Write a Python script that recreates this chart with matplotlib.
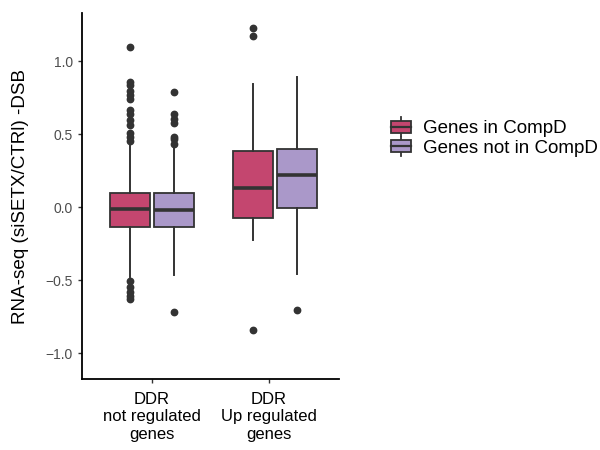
import matplotlib
matplotlib.use("Agg")
import matplotlib.pyplot as plt
from matplotlib.legend_handler import HandlerBase
from matplotlib.patches import Rectangle
from matplotlib.lines import Line2D

plt.rcParams['font.family'] = ['Liberation Sans', 'DejaVu Sans']

categories = ["DDR\nnot regulated\ngenes", "DDR\nUp regulated\ngenes"]
series = ["Genes in CompD", "Genes not in CompD"]
colors = ["#C4466F", "#AA98C9"]

# stats per series per category: whislo, q1, med, q3, whishi
in_compd_stats = [
    [-0.475, -0.137, -0.012, 0.100, 0.44],
    [-0.224, -0.071, 0.130, 0.386, 0.845],
]
not_compd_stats = [
    [-0.464, -0.133, -0.021, 0.096, 0.42],
    [-0.457, -0.003, 0.221, 0.400, 0.895],
]
in_compd_outliers = [
    [1.095, 0.86, 0.837, 0.80, 0.77, 0.74, 0.667, 0.637, 0.598, 0.564,
     0.507, 0.479, 0.456, -0.505, -0.543, -0.578, -0.608, -0.63],
    [1.226, 1.173, -0.84],
]
not_compd_outliers = [
    [0.79, 0.639, 0.604, 0.575, 0.484, 0.466, 0.434, -0.717],
    [-0.703],
]

yticks = [-1.0, -0.5, 0.0, 0.5, 1.0]
ylabel = "RNA-seq (siSETX/CTRl) -DSB"

fig = plt.figure(figsize=(6, 4.5), dpi=100)
ax = fig.add_axes([82/600, 1-379/450, 257/600, 366/450])

group_pos = [1.0, 2.05]
offset = 0.188
width = 0.342
edge = "#333333"

def make_stats(s, fl):
    return dict(whislo=s[0], q1=s[1], med=s[2], q3=s[3], whishi=s[4], fliers=fl)

for k, (stats, outs, col) in enumerate([(in_compd_stats, in_compd_outliers, colors[0]),
                                         (not_compd_stats, not_compd_outliers, colors[1])]):
    sgn = -1 if k == 0 else 1
    bstats = [make_stats(stats[i], outs[i]) for i in range(len(categories))]
    pos = [g + sgn*offset for g in group_pos]
    ax.bxp(bstats, positions=pos, widths=width, patch_artist=True, showcaps=False,
           boxprops=dict(facecolor=col, edgecolor=edge, linewidth=1.3),
           whiskerprops=dict(color=edge, linewidth=1.4),
           medianprops=dict(color=edge, linewidth=2.6),
           flierprops=dict(marker='o', markerfacecolor=edge, markeredgecolor=edge,
                           markersize=4.6, linestyle='none'),
           manage_ticks=False, zorder=2)

ax.set_xlim(0.4, 2.6)
ax.set_ylim(-1.176, 1.331)
ax.set_xticks([1, 2])
ax.set_xticklabels(categories, fontsize=12, color='black', linespacing=1.2)
ax.set_yticks(yticks)
ax.set_yticklabels([f"{v:.1f}".replace("-", "\u2212") for v in yticks], fontsize=10, color="#4D4D4D")
ax.set_ylabel(ylabel, fontsize=13.6, color='black', labelpad=12)
for s in ["top", "right"]:
    ax.spines[s].set_visible(False)
for s in ["left", "bottom"]:
    ax.spines[s].set_linewidth(1.3)
    ax.spines[s].set_color("black")
ax.tick_params(axis='both', length=3.2, width=1.0, color="#333333")
ax.tick_params(axis='x', pad=6)

class BoxHandler(HandlerBase):
    def __init__(self, color):
        super().__init__()
        self.color = color
    def create_artists(self, legend, orig_handle, xdescent, ydescent, width, height, fontsize, trans):
        cx = width/2 - xdescent
        h = height
        r = Rectangle((-xdescent, -ydescent + h*0.1), width, h*0.8,
                      facecolor=self.color, edgecolor=edge, linewidth=1.3, transform=trans)
        v = Line2D([cx, cx], [-ydescent - h*0.12, -ydescent + h*1.12], color=edge, linewidth=1.3, transform=trans)
        m = Line2D([-xdescent, -xdescent + width], [-ydescent + h/2]*2,
                   color=edge, linewidth=1.6, transform=trans)
        return [v, r, m]

handles = [Rectangle((0, 0), 1, 1), Rectangle((0, 0), 1, 1)]
leg = fig.legend(handles, series, loc='center left', bbox_to_anchor=(391/600, 1-138/450),
                 frameon=False, fontsize=13.5, handlelength=1.07, handleheight=0.85,
                 handletextpad=0.64, labelspacing=0.1, borderaxespad=0, borderpad=0,
                 handler_map={handles[0]: BoxHandler(colors[0]), handles[1]: BoxHandler(colors[1])})

fig.savefig("out.png", dpi=100)
